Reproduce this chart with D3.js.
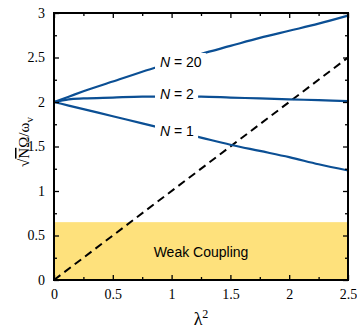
<!DOCTYPE html>
<html>
<head>
<meta charset="utf-8">
<script src="https://cdn.jsdelivr.net/npm/d3@7"></script>
<style>
  body { margin: 0; background: #fff; }
  svg { display: block; }
  .curve { fill: none; stroke: #0b4f94; stroke-width: 2.2; }
  .lbl { font-family: "Liberation Sans", Arial, sans-serif; font-size: 14px; fill: #000; }
</style>
</head>
<body>
<div id="chart"></div>
<script>
// values
var lambda2 = [0, 0.125, 0.25, 0.5, 0.75, 1, 1.25, 1.5, 1.75, 2, 2.25, 2.5];
var n20 = [2.00, 2.06, 2.12, 2.23, 2.34, 2.44, 2.54, 2.63, 2.72, 2.80, 2.88, 2.97];
var n2  = [2.00, 2.03, 2.04, 2.05, 2.06, 2.06, 2.06, 2.05, 2.04, 2.03, 2.02, 2.01];
var n1  = [2.00, 1.96, 1.92, 1.84, 1.76, 1.68, 1.60, 1.52, 1.45, 1.38, 1.30, 1.23];
var dashX = [0, 2.5];
var dashY = [0, 2.5];
var weakTop = 0.65;
var xTicks = [0, 0.5, 1, 1.5, 2, 2.5];
var yTicks = [0, 0.5, 1, 1.5, 2, 2.5, 3];
var minorTicks = [0.25, 0.75, 1.25, 1.75, 2.25, 2.75];

var series = [
    { name: "N = 20", vals: n20, dy: 67 },
    { name: "N = 2", vals: n2, dy: 99 },
    { name: "N = 1", vals: n1, dy: 136 }
];

var serif = '"Liberation Serif", "Times New Roman", "DejaVu Serif", serif';

var W = 357, H = 334;
var margin = { left: 54, right: 9, top: 13, bottom: 54 };
var width = W - margin.left - margin.right;
var height = H - margin.top - margin.bottom;

var svg = d3.select('#chart').append('svg').attr('width', W).attr('height', H);
var g = svg.append('g').attr('transform', 'translate(' + margin.left + ',' + margin.top + ')');

var x = d3.scaleLinear().domain([0, 2.5]).range([0, width]);
var y = d3.scaleLinear().domain([0, 3]).range([height, 0]);

// weak coupling band
g.append('rect')
    .attr('x', 0).attr('y', y(weakTop))
    .attr('width', width).attr('height', y(0) - y(weakTop))
    .attr('fill', '#fee17c');

g.append('text').attr('class', 'lbl')
    .attr('x', x(1.25)).attr('y', y(0.26))
    .attr('text-anchor', 'middle')
    .text('Weak Coupling');

// dashed y = x line
var dashData = dashX.map(function (d, i) { return { x: d, y: dashY[i] }; });
g.append('path')
    .attr('d', d3.line().x(function (d) { return x(d.x); }).y(function (d) { return y(d.y); })(dashData))
    .attr('fill', 'none').attr('stroke', '#000').attr('stroke-width', 2)
    .attr('stroke-dasharray', '8,5');

var line = d3.line()
    .x(function (d) { return x(d.x); })
    .y(function (d) { return y(d.y); })
    .curve(d3.curveMonotoneX);

series.forEach(function (s) {
    var pts = lambda2.map(function (l, i) { return { x: l, y: s.vals[i] }; });
    g.append('path').attr('class', 'curve').attr('d', line(pts));
});

// labels sit on white patches that break the curves
series.forEach(function (s) {
    var t = svg.append('text').attr('class', 'lbl')
        .attr('x', 160).attr('y', s.dy);
    t.append('tspan').style('font-style', 'italic').text('N');
    t.append('tspan').text(s.name.slice(1));
    var bb = t.node().getBBox();
    svg.insert('rect', function () { return t.node(); })
        .attr('x', bb.x - 5).attr('y', bb.y - 1)
        .attr('width', bb.width + 9).attr('height', bb.height + 2)
        .attr('fill', '#fff');
});

// axes with inward ticks on all four sides
function tickAxis(axisFn, scale, major, minor, transform, labels) {
    var a = g.append('g').attr('transform', transform)
        .call(axisFn(scale).tickValues(major).tickSizeInner(-5).tickSizeOuter(0)
            .tickPadding(labels ? 9 : 0).tickFormat(labels ? d3.format('') : ''));
    a.attr('font-family', serif).attr('font-size', 14);
    a.select('.domain').remove();
    a.selectAll('.tick line').attr('stroke', '#000').attr('stroke-width', 1.3);
    a.selectAll('.tick text').attr('fill', '#000');
    g.append('g').attr('transform', transform)
        .call(axisFn(scale).tickValues(minor).tickSizeInner(-3).tickSizeOuter(0).tickFormat(''))
        .call(function (s) { s.select('.domain').remove(); s.selectAll('line').attr('stroke', '#000').attr('stroke-width', 1.3); });
    return a;
}
var xMinor = minorTicks.filter(function (d) { return d < 2.5; });
tickAxis(d3.axisBottom, x, xTicks, xMinor, 'translate(0,' + height + ')', true);
tickAxis(d3.axisTop, x, xTicks, xMinor, 'translate(0,0)', false);
tickAxis(d3.axisLeft, y, yTicks, minorTicks, 'translate(0,0)', true);
tickAxis(d3.axisRight, y, yTicks, minorTicks, 'translate(' + width + ',0)', false);

g.append('rect').attr('width', width).attr('height', height)
    .attr('fill', 'none').attr('stroke', '#000').attr('stroke-width', 2);

// axis titles
var xl = svg.append('text')
    .attr('x', margin.left + width / 2).attr('y', 325)
    .attr('text-anchor', 'middle')
    .attr('font-family', serif).attr('font-size', 18);
xl.append('tspan').text('λ');
xl.append('tspan').attr('dy', -7).attr('font-size', 12).text('2');

var yl = svg.append('text')
    .attr('transform', 'translate(29,142) rotate(-90)')
    .attr('text-anchor', 'middle')
    .attr('font-family', serif).attr('font-size', 15);
yl.append('tspan').text('√');
yl.append('tspan').style('text-decoration', 'overline').text('N');
yl.append('tspan').text('Ω/ω');
yl.append('tspan').attr('dy', 4).attr('font-size', 11).text('v');
</script>
</body>
</html>
